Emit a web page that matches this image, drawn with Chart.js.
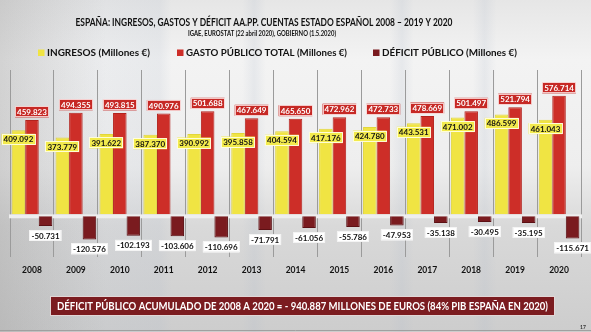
<!DOCTYPE html>
<html lang="es">
<head>
<meta charset="utf-8">
<title>España: ingresos, gastos y déficit AA.PP.</title>
<script src="https://cdn.jsdelivr.net/npm/chart.js@4.4.1/dist/chart.umd.min.js"></script>
<style>
  html, body { margin: 0; padding: 0; }
  body {
    width: 591px;
    height: 332px;
    overflow: hidden;
    background:
      linear-gradient(90deg, rgba(180,190,205,0) 0%, rgba(180,190,205,0.18) 27%, rgba(180,190,205,0) 29%,
        rgba(180,190,205,0) 41%, rgba(180,190,205,0.2) 43%, rgba(180,190,205,0) 45%,
        rgba(180,190,205,0) 66%, rgba(180,190,205,0.2) 68%, rgba(180,190,205,0) 70%,
        rgba(180,190,205,0) 80%, rgba(180,190,205,0.2) 82%, rgba(180,190,205,0) 84%),
      linear-gradient(90deg, rgba(150,150,150,0.35) 0%, rgba(150,150,150,0) 18%),
      linear-gradient(180deg, #e6e6e6 0%, #f3f3f3 18%, #eeeeee 50%, #d9d9d9 68%, #cdcdcd 100%);
  }
  canvas { display: block; }
</style>
</head>
<body>
<canvas id="graph-cuentas" width="591" height="332"></canvas>
<script>
// Datos (millones de euros)
const years = ["2008", "2009", "2010", "2011", "2012", "2013", "2014", "2015", "2016", "2017", "2018", "2019", "2020"];
const ingresos = [409092, 373779, 391622, 387370, 390992, 395858, 404594, 417176, 424780, 443531, 471002, 486599, 461043];
const gasto = [459823, 494355, 493815, 490976, 501688, 467649, 465650, 472962, 472733, 478669, 501497, 521794, 576714];
const deficit = [-50731, -120576, -102193, -103606, -110696, -71791, -61056, -55786, -47953, -35138, -30495, -35195, -115671];

const FONT = "Lato, 'Open Sans', sans-serif";
const YELLOW = "#f0e443";
const RED = "#cd2e28";
const DARKRED = "#7a1b1f";

// 409092 -> "409.092"
const fmt = (v) => {
  const s = String(Math.abs(v));
  return (v < 0 ? "-" : "") + s.slice(0, -3) + "." + s.slice(-3);
};

// texto estrechado al ancho dado (la letra original es más estrecha que Lato)
const fitText = (ctx, text, x, y, width, align) => {
  const w = ctx.measureText(text).width;
  ctx.save();
  ctx.translate(x, y);
  ctx.scale(width / w, 1);
  ctx.textAlign = align || "center";
  ctx.fillText(text, 0, 0);
  ctx.restore();
};

const labelBox = (ctx, text, cx, cy, fill, color, border) => {
  ctx.font = "bold 8px " + FONT;
  const w = ctx.measureText(text).width + 4;
  const h = 11;
  ctx.fillStyle = fill;
  ctx.fillRect(cx - w / 2, cy - h / 2, w, h);
  ctx.strokeStyle = border;
  ctx.lineWidth = 1;
  ctx.strokeRect(Math.round(cx - w / 2) + 0.5, Math.round(cy - h / 2) + 0.5, Math.round(w) - 1, h - 1);
  ctx.fillStyle = color;
  ctx.textAlign = "center";
  ctx.textBaseline = "middle";
  ctx.fillText(text, cx, cy + 0.5);
};

// franja clara en el cero, entre gastos/ingresos y déficit
const zeroBand = {
  id: "zeroBand",
  beforeDatasetsDraw(chart) {
    const { ctx, chartArea, scales } = chart;
    const y0 = scales.y.getPixelForValue(0);
    const y1 = scales.y2.getPixelForValue(0);
    ctx.save();
    ctx.fillStyle = "#eeeeee";
    ctx.fillRect(chartArea.left - 1, y0, chartArea.right - chartArea.left + 2, y1 - y0 + 2);
    ctx.restore();
  },
};

// etiquetas de valores
const valueLabels = {
  id: "valueLabels",
  afterDatasetsDraw(chart) {
    const ctx = chart.ctx;
    ctx.save();
    chart.getDatasetMeta(1).data.forEach((bar, i) => {
      labelBox(ctx, fmt(gasto[i]), bar.x, bar.y - 8, "#c62925", "#ffffff", "rgba(255,235,235,0.8)");
    });
    chart.getDatasetMeta(0).data.forEach((bar, i) => {
      labelBox(ctx, fmt(ingresos[i]), bar.x, bar.y + 9, "#f2ea4d", "#111111", "rgba(255,255,230,0.9)");
    });
    chart.getDatasetMeta(2).data.forEach((bar, i) => {
      labelBox(ctx, fmt(deficit[i]), bar.x, bar.y + 9.5, "#ffffff", "#111111", "#f4f4f4");
    });
    ctx.restore();
  },
};

// título, leyenda y rótulo inferior
const header = {
  id: "header",
  afterDraw(chart) {
    const ctx = chart.ctx;
    ctx.save();
    ctx.textBaseline = "middle";
    ctx.fillStyle = "#111";
    ctx.font = "bold 11px " + FONT;
    fitText(ctx, "ESPAÑA: INGRESOS, GASTOS Y DÉFICIT AA.PP. CUENTAS ESTADO ESPAÑOL 2008 – 2019 Y 2020", 264, 22, 377);
    ctx.font = "bold 6.5px " + FONT;
    fitText(ctx, "IGAE, EUROSTAT (22 abril 2020), GOBIERNO (1.5.2020)", 262, 33.5, 148);

    // leyenda
    ctx.font = "bold 10px " + FONT;
    const legendX = [38, 177, 373];
    const legendW = [103, 161, 135];
    chart.data.datasets.forEach((d, i) => {
      ctx.fillStyle = d.backgroundColor;
      ctx.fillRect(legendX[i], 49.5, 6.5, 6.5);
      ctx.fillStyle = "#111";
      fitText(ctx, d.label, legendX[i] + 9, 53, legendW[i], "left");
    });

    // rótulo déficit acumulado
    ctx.fillStyle = "#7b1c20";
    ctx.fillRect(50, 296, 505, 20);
    ctx.strokeStyle = "#e2d6d6";
    ctx.lineWidth = 1;
    ctx.strokeRect(50.5, 296.5, 504, 19);
    ctx.fillStyle = "#ffffff";
    ctx.font = "bold 12px " + FONT;
    fitText(ctx, "DÉFICIT PÚBLICO ACUMULADO DE 2008 A 2020 = - 940.887 MILLONES DE EUROS (84% PIB ESPAÑA EN 2020)", 302.5, 306.5, 491);

    // pie
    ctx.strokeStyle = "#a0a0a0";
    ctx.beginPath();
    ctx.moveTo(0, 330.5);
    ctx.lineTo(591, 330.5);
    ctx.stroke();
    ctx.fillStyle = "#333";
    ctx.textAlign = "center";
    ctx.font = "bold 5px " + FONT;
    ctx.fillText("17", 583, 327);
    ctx.restore();
  },
};

const graphCuentas = document.getElementById("graph-cuentas").getContext("2d");
const myChart = new Chart(graphCuentas, {
  type: "bar",
  data: {
    labels: years,
    datasets: [
      {
        label: "INGRESOS (Millones €)",
        data: ingresos,
        backgroundColor: YELLOW,
        borderColor: "#e2d63a",
        borderWidth: 1,
        yAxisID: "y",
      },
      {
        label: "GASTO PÚBLICO TOTAL (Millones €)",
        data: gasto,
        backgroundColor: RED,
        borderColor: "#b3221d",
        borderWidth: 1,
        yAxisID: "y",
      },
      {
        label: "DÉFICIT PÚBLICO (Millones €)",
        data: deficit,
        backgroundColor: DARKRED,
        borderColor: "#5c1014",
        borderWidth: 1,
        yAxisID: "y2",
      },
    ],
  },
  options: {
    responsive: false,
    animation: false,
    devicePixelRatio: 1,
    layout: { padding: { top: 70, left: 10, right: 10, bottom: 49 } },
    datasets: { bar: { categoryPercentage: 0.925, barPercentage: 1 } },
    scales: {
      x: {
        grid: { offset: true, color: "#9b9b9b", lineWidth: 1, drawTicks: false },
        border: { display: false },
        ticks: { color: "#111", padding: 8, font: { family: FONT, weight: "bold", size: 8.5 } },
      },
      y: { display: false, min: -206500, max: 702600 },
      y2: { display: false, min: -211500, max: 763500 },
    },
    plugins: {
      legend: { display: false },
      title: { display: false },
      tooltip: { enabled: false },
    },
  },
  plugins: [zeroBand, valueLabels, header],
});
</script>
</body>
</html>
